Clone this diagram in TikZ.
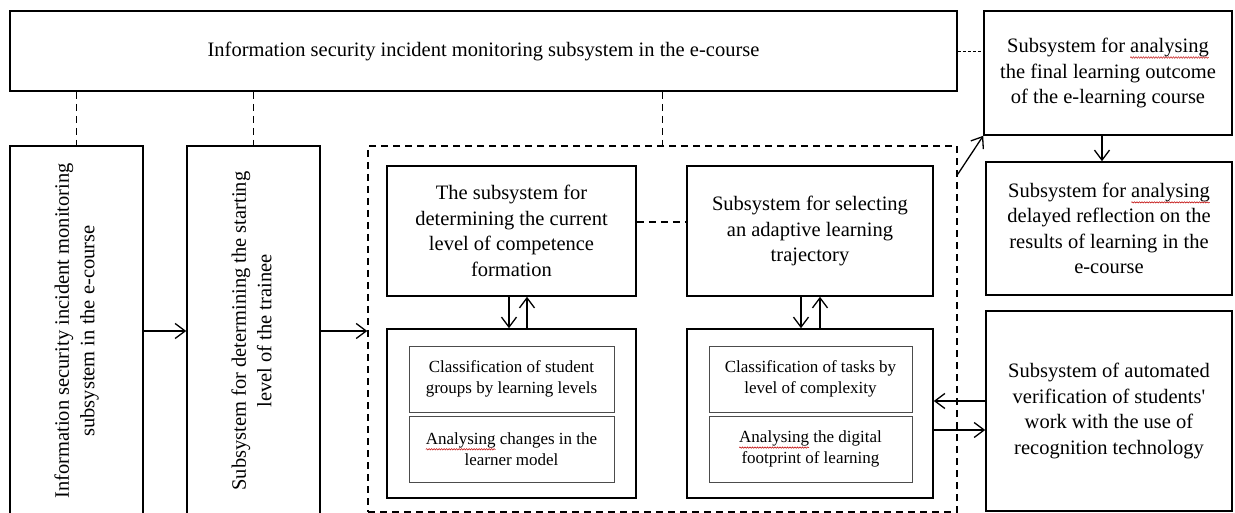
\documentclass[tikz,border=0pt]{standalone}
\usepackage{fontspec}
\setmainfont{Liberation Serif}
\usetikzlibrary{arrows.meta,decorations.pathmorphing}
\newlength\spelllen
\newcommand\spellwave[1]{\settowidth\spelllen{#1}\leavevmode\rlap{#1}\tikz[baseline=0pt,x=1pt,y=1pt]{\useasboundingbox (0pt,0pt) rectangle (\spelllen,0.1pt); \draw[red!75!black,line width=0.5pt,decorate,decoration={snake,amplitude=0.7pt,segment length=2.5pt}] (0pt,-5pt) -- (\spelllen,-5pt);}}
\begin{document}
\begin{tikzpicture}[x=1pt,y=-1pt,
  box/.style={draw, line width=1.6pt, inner sep=0pt, align=center, font=\fontsize{20.5}{25.5}\selectfont},
  subbox/.style={draw=black!70, line width=1pt, inner sep=0pt, align=center, font=\fontsize{17}{21}\selectfont},
  dashline/.style={line width=1.5pt, dash pattern=on 7pt off 5pt},
  dotline/.style={line width=0.8pt, dash pattern=on 3pt off 2pt},
  arr/.style={line width=1.3pt, -{Straight Barb[length=10pt,width=15pt]}},
]
\clip (0,0) rectangle (1235,513);
\fill[white] (0,0) rectangle (1235,513);

% top and right column
\node[box, minimum width=947pt, minimum height=80pt] (top) at (483.5,51) {Information security incident monitoring subsystem in the e-course};
\node[box, minimum width=248pt, minimum height=124pt] (fin) at (1108,73) {Subsystem for \spellwave{analysing}\\ the final learning outcome\\ of the e-learning course};
\node[box, minimum width=246pt, minimum height=133pt] (del) at (1109,228.5) {Subsystem for \spellwave{analysing}\\ delayed reflection on the\\ results of learning in the\\ e-course};
\node[box, minimum width=246pt, minimum height=200pt] (aut) at (1109,411) {\raisebox{-3pt}{\begin{tabular}{@{}c@{}}Subsystem of automated\\ verification of students\textquotesingle\\ work with the use of\\ recognition technology\end{tabular}}};

% left column boxes (vertical text)
\node[box, minimum width=133pt, minimum height=370pt] (inc) at (76.5,331) {\rotatebox{90}{\begin{tabular}{@{}c@{}}Information security incident monitoring\\ subsystem in the e-course\end{tabular}}};
\node[box, minimum width=133pt, minimum height=370pt] (start) at (253.5,331) {\rotatebox{90}{\begin{tabular}{@{}c@{}}Subsystem for determining the starting\\ level of the trainee\end{tabular}}};

% dashed group
\node[draw, dashline, inner sep=0pt, minimum width=589pt, minimum height=366pt] (adapt) at (662.5,329) {};
\node[box, minimum width=249pt, minimum height=130pt] (cur) at (511.5,231) {The subsystem for\\ determining the current\\ level of competence\\ formation};
\node[box, minimum width=246pt, minimum height=130pt] (sel) at (810,231) {Subsystem for selecting\\ an adaptive learning\\ trajectory};
\node[box, minimum width=249pt, minimum height=169pt] (grp) at (511.5,413.5) {};
\node[box, minimum width=246pt, minimum height=169pt] (tsk) at (810,413.5) {};
\node[subbox, minimum width=205pt, minimum height=66pt] (cls1) at (511.5,379) {Classification of student\\ groups by learning levels};
\node[subbox, minimum width=205pt, minimum height=66pt] (chg) at (511.5,449) {\spellwave{Analysing} changes in the\\ learner model};
\node[subbox, minimum width=203pt, minimum height=66pt] (cls2) at (810.5,379) {Classification of tasks by\\ level of complexity};
\node[subbox, minimum width=203pt, minimum height=66pt] (dig) at (810.5,449) {\spellwave{Analysing} the digital\\ footprint of learning};

% dashed links from the top box
\draw[dashline] (inc.north |- top.south) -- (inc.north);
\draw[dashline] (start.north |- top.south) -- (start.north);
\draw[dashline] (adapt.north |- top.south) -- (adapt.north);
\draw[dotline] (top.east) -- (top.east -| fin.west);
\draw[dashline] ([yshift=9pt]cur.east) -- ([yshift=9pt]cur.east -| sel.west);

% arrows
\draw[arr] (inc.east) -- (inc.east -| start.west);
\draw[arr] (start.east) -- (start.east -| adapt.west);
\draw[arr] ([xshift=-2.5pt]cur.south) -- ([xshift=-2.5pt]cur.south |- grp.north);
\draw[arr] ([xshift=15.5pt]grp.north) -- ([xshift=15.5pt]grp.north |- cur.south);
\draw[arr] ([xshift=-9pt]sel.south) -- ([xshift=-9pt]sel.south |- tsk.north);
\draw[arr] ([xshift=10pt]tsk.north) -- ([xshift=10pt]tsk.north |- sel.south);
\draw[arr] ([xshift=-6pt]fin.south) -- ([xshift=-6pt]fin.south |- del.north);
\draw[arr] ([yshift=10pt]aut.west) -- ([yshift=10pt]aut.west -| tsk.east);
\draw[arr] ([yshift=-19pt]aut.west -| tsk.east) -- ([yshift=-19pt]aut.west);
\coordinate (corner) at ([yshift=-29pt]adapt.north east);
\draw[arr] (corner) -- (fin.south west);
\end{tikzpicture}
\end{document}
